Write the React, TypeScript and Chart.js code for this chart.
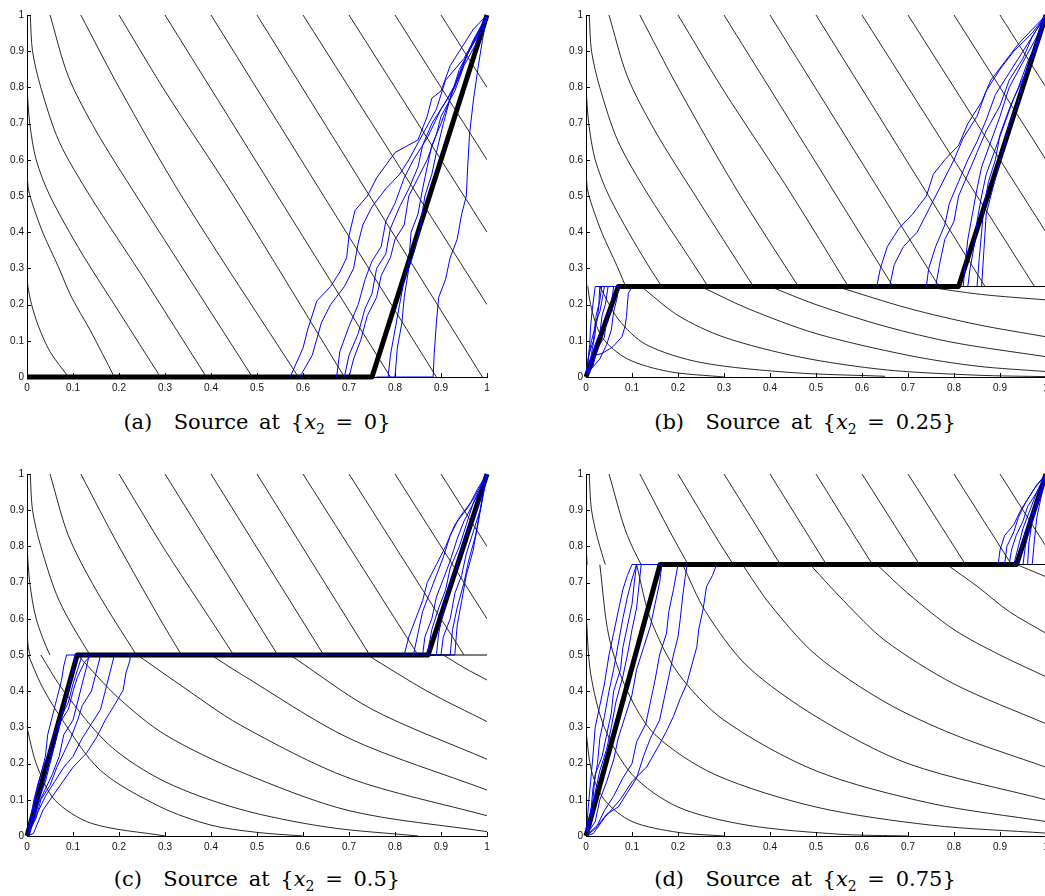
import React, { useEffect, useRef } from "react";
import { Chart, registerables } from "chart.js";

Chart.register(...registerables);

type P = [number, number];

// ---------- axis ticks ----------
const TICK_VALUES = [0, 0.1, 0.2, 0.3, 0.4, 0.5, 0.6, 0.7, 0.8, 0.9, 1];
const TICK_LABELS = ["0", "0.1", "0.2", "0.3", "0.4", "0.5", "0.6", "0.7", "0.8", "0.9", "1"];

// ---------- panels ----------
const PANEL_LABELS = ["(a)", "(b)", "(c)", "(d)"];
const SOURCE_LEVELS = [0, 0.25, 0.5, 0.75];
const SOURCE_TEXT = ["0", "0.25", "0.5", "0.75"];

// thick optimal path per panel
const THICK_A: P[] = [[0, 0], [0.75, 0], [1, 1]];
const THICK_B: P[] = [[0, 0], [0.07, 0.25], [0.81, 0.25], [1, 1]];
const THICK_C: P[] = [[0, 0], [0.109, 0.5], [0.872, 0.5], [1, 1]];
const THICK_D: P[] = [[0, 0], [0.161, 0.75], [0.936, 0.75], [1, 1]];

// thin source line
const SRC_A: P[] = [];
const SRC_B: P[] = [[0.07, 0.25], [1, 0.25]];
const SRC_C: P[] = [[0.109, 0.5], [1, 0.5]];
const SRC_D: P[] = [[0.161, 0.75], [1, 0.75]];

// level lines above the source (shared by all panels)
const LEVELS_UPPER: P[][] = [
  [[0.09, 0], [0.05, 0.07], [0.025, 0.14], [0.01, 0.2], [0.002, 0.25], [0, 0.28]],
  [[0.19, 0], [0.137, 0.13], [0.097, 0.22], [0.068, 0.305], [0.035, 0.397], [0.014, 0.47], [0.003, 0.52], [0, 0.58]],
  [[0.29, 0], [0.2, 0.18], [0.12, 0.34], [0.05, 0.5], [0.02, 0.6], [0.006, 0.7], [0, 0.8]],
  [[0.39, 0], [0.25, 0.28], [0.137, 0.5], [0.07, 0.65], [0.03, 0.8], [0.012, 0.9], [0.007, 1]],
  [[0.49, 0], [0.238, 0.5], [0.15, 0.68], [0.09, 0.83], [0.05, 1]],
  [[0.59, 0], [0.336, 0.5], [0.2, 0.8], [0.117, 1]],
  [[0.69, 0], [0.449, 0.5], [0.3, 0.79], [0.2, 1]],
  [[0.79, 0], [0.3, 1]],
  [[0.89, 0], [0.4, 1]],
  [[0.99, 0], [0.5, 1]],
  [[1, 0.2], [0.6, 1]],
  [[1, 0.4], [0.7, 1]],
  [[1, 0.6], [0.8, 1]],
  [[1, 0.8], [0.9, 1]],
];

// level lines below the source
const LEVELS_LOWER_B: P[][] = [
  [[0.735, 0.25], [0.86, 0.228], [1, 0.213]],
  [[0.545, 0.25], [0.7, 0.19], [0.85, 0.145], [1, 0.111]],
  [[0.4, 0.25], [0.5, 0.2], [0.65, 0.14], [0.8, 0.095], [1, 0.056]],
  [[0.25, 0.25], [0.35, 0.19], [0.5, 0.12], [0.7, 0.06], [0.85, 0.03], [1, 0.015]],
  [[0.12, 0.25], [0.2, 0.17], [0.3, 0.11], [0.465, 0.055], [0.65, 0.02], [0.85, 0.005], [1, 0.001]],
  [[0.03, 0.25], [0.07, 0.16], [0.13, 0.09], [0.25, 0.04], [0.45, 0.012], [0.65, 0.002]],
  [[0, 0.3], [0.01, 0.2], [0.035, 0.11], [0.09, 0.05], [0.18, 0.015], [0.3, 0]],
];
const LEVELS_LOWER_C: P[][] = [
  [[0.905, 0.5], [0.95, 0.465], [1, 0.431]],
  [[0.74, 0.5], [0.87, 0.4], [1, 0.316]],
  [[0.572, 0.5], [0.75, 0.35], [1, 0.212]],
  [[0.4, 0.5], [0.463, 0.449], [0.7, 0.27], [1, 0.127]],
  [[0.24, 0.5], [0.33, 0.42], [0.463, 0.307], [0.7, 0.16], [1, 0.056]],
  [[0.11, 0.5], [0.2, 0.38], [0.3, 0.28], [0.463, 0.178], [0.7, 0.07], [1, 0.012]],
  [[0.03, 0.5], [0.08, 0.4], [0.18, 0.25], [0.3, 0.15], [0.463, 0.074], [0.65, 0.025], [0.85, 0]],
  [[0.003, 0.5], [0.03, 0.42], [0.072, 0.33], [0.159, 0.182], [0.289, 0.081], [0.4, 0.03], [0.5, 0.01], [0.6, 0]],
  [[0, 0.3], [0.02, 0.2], [0.06, 0.1], [0.14, 0.035], [0.3, 0]],
];
const LEVELS_LOWER_D: P[][] = [
  [[0.936, 0.75], [0.97, 0.732], [1, 0.716]],
  [[0.784, 0.75], [0.85, 0.69], [0.92, 0.62], [1, 0.56]],
  [[0.632, 0.75], [0.7, 0.67], [0.8, 0.57], [0.9, 0.5], [1, 0.44]],
  [[0.487, 0.75], [0.56, 0.65], [0.65, 0.54], [0.8, 0.42], [1, 0.31]],
  [[0.34, 0.75], [0.4, 0.64], [0.5, 0.5], [0.65, 0.37], [0.8, 0.28], [1, 0.19]],
  [[0.21, 0.75], [0.26, 0.62], [0.35, 0.47], [0.5, 0.33], [0.7, 0.2], [1, 0.1]],
  [[0.11, 0.75], [0.14, 0.6], [0.2, 0.45], [0.3, 0.32], [0.5, 0.18], [0.75, 0.09], [1, 0.04]],
  [[0.03, 0.75], [0.05, 0.55], [0.09, 0.4], [0.15, 0.28], [0.28, 0.17], [0.5, 0.08], [0.75, 0.03], [1, 0.008]],
  [[0, 0.62], [0.01, 0.45], [0.04, 0.3], [0.1, 0.17], [0.2, 0.08], [0.35, 0.03], [0.55, 0.005], [0.7, 0]],
  [[0, 0.29], [0.012, 0.18], [0.04, 0.1], [0.1, 0.04], [0.2, 0.01], [0.3, 0]],
];

// ---------- sample paths (blue) ----------
const PATHS_A: P[][] = [
  [[0.572, 0], [0.6, 0.08], [0.61, 0.13], [0.63, 0.21], [0.66, 0.25], [0.68, 0.29], [0.695, 0.33], [0.7, 0.39], [0.713, 0.46], [0.74, 0.5], [0.76, 0.55], [0.8, 0.62], [0.85, 0.655], [0.87, 0.72], [0.88, 0.77], [0.9, 0.79], [0.92, 0.86], [0.94, 0.9], [0.97, 0.96], [1, 1]],
  [[0.593, 0], [0.62, 0.06], [0.64, 0.15], [0.66, 0.2], [0.69, 0.25], [0.71, 0.3], [0.72, 0.37], [0.73, 0.42], [0.75, 0.47], [0.78, 0.52], [0.81, 0.56], [0.83, 0.6], [0.86, 0.67], [0.89, 0.74], [0.91, 0.82], [0.95, 0.88], [0.98, 0.95], [1, 1]],
  [[0.673, 0], [0.68, 0.07], [0.7, 0.14], [0.72, 0.2], [0.735, 0.27], [0.75, 0.32], [0.77, 0.36], [0.78, 0.43], [0.8, 0.48], [0.82, 0.55], [0.84, 0.6], [0.87, 0.66], [0.9, 0.74], [0.93, 0.8], [0.95, 0.87], [0.97, 0.93], [1, 1]],
  [[0.69, 0], [0.7, 0.06], [0.72, 0.12], [0.735, 0.19], [0.75, 0.23], [0.76, 0.3], [0.78, 0.34], [0.79, 0.41], [0.81, 0.47], [0.83, 0.52], [0.85, 0.58], [0.86, 0.64], [0.88, 0.7], [0.91, 0.76], [0.94, 0.83], [0.96, 0.9], [0.99, 0.96], [1, 1]],
  [[0.7, 0], [0.71, 0.05], [0.725, 0.1], [0.74, 0.17], [0.76, 0.22], [0.77, 0.28], [0.79, 0.33], [0.8, 0.38], [0.82, 0.42], [0.83, 0.5], [0.85, 0.55], [0.87, 0.6], [0.89, 0.67], [0.9, 0.72], [0.93, 0.79], [0.95, 0.86], [0.98, 0.93], [1, 1]],
  [[0.785, 0], [0.79, 0.06], [0.8, 0.13], [0.81, 0.2], [0.82, 0.27], [0.83, 0.32], [0.835, 0.4], [0.85, 0.45], [0.86, 0.52], [0.87, 0.58], [0.88, 0.64], [0.9, 0.7], [0.92, 0.77], [0.94, 0.84], [0.96, 0.9], [0.98, 0.95], [1, 1]],
  [[0.8, 0], [0.805, 0.08], [0.815, 0.15], [0.82, 0.22], [0.83, 0.3], [0.845, 0.36], [0.855, 0.42], [0.865, 0.5], [0.88, 0.56], [0.89, 0.62], [0.905, 0.7], [0.92, 0.77], [0.94, 0.85], [0.97, 0.92], [1, 1]],
  [[0.76, 0], [0.883, 0], [0.885, 0.06], [0.89, 0.15], [0.895, 0.22], [0.91, 0.27], [0.92, 0.33], [0.935, 0.38], [0.945, 0.45], [0.955, 0.5], [0.958, 0.58], [0.962, 0.67], [0.97, 0.76], [0.98, 0.85], [0.99, 0.93], [1, 1]],
];

const PATHS_B_LOW: P[][] = [
  [[0, 0], [0.004, 0.04], [0.008, 0.09], [0.01, 0.14], [0.014, 0.19], [0.02, 0.25]],
  [[0, 0], [0.008, 0.03], [0.014, 0.08], [0.02, 0.12], [0.022, 0.17], [0.03, 0.21], [0.034, 0.25]],
  [[0, 0], [0.012, 0.05], [0.02, 0.09], [0.03, 0.12], [0.035, 0.17], [0.042, 0.2], [0.048, 0.25]],
  [[0, 0], [0.015, 0.03], [0.025, 0.08], [0.04, 0.11], [0.045, 0.16], [0.055, 0.2], [0.06, 0.25]],
  [[0, 0], [0.006, 0.06], [0.016, 0.1], [0.02, 0.15], [0.03, 0.18], [0.036, 0.22], [0.04, 0.25]],
  [[0, 0], [0.01, 0.02], [0.03, 0.05], [0.045, 0.09], [0.055, 0.13], [0.06, 0.18], [0.068, 0.22], [0.07, 0.25]],
  [[0, 0], [0.01, 0.03], [0.02, 0.06], [0.035, 0.065], [0.059, 0.084], [0.078, 0.111], [0.085, 0.14], [0.088, 0.167], [0.09, 0.2], [0.092, 0.231], [0.1, 0.25]],
  [[0, 0], [0.005, 0.05], [0.012, 0.1], [0.018, 0.13], [0.025, 0.16], [0.028, 0.2], [0.03, 0.25]],
];
const PATHS_B_UP: P[][] = [
  [[0.632, 0.25], [0.64, 0.3], [0.655, 0.36], [0.68, 0.41], [0.71, 0.45], [0.74, 0.5], [0.755, 0.56], [0.78, 0.6], [0.81, 0.64], [0.83, 0.7], [0.86, 0.76], [0.88, 0.82], [0.91, 0.87], [0.94, 0.92], [0.97, 0.96], [1, 1]],
  [[0.66, 0.25], [0.67, 0.31], [0.69, 0.36], [0.72, 0.4], [0.74, 0.45], [0.76, 0.5], [0.78, 0.55], [0.8, 0.6], [0.82, 0.66], [0.85, 0.72], [0.87, 0.79], [0.9, 0.85], [0.93, 0.9], [0.97, 0.95], [1, 1]],
  [[0.74, 0.25], [0.745, 0.3], [0.76, 0.36], [0.78, 0.42], [0.79, 0.48], [0.81, 0.54], [0.83, 0.6], [0.85, 0.65], [0.87, 0.71], [0.89, 0.78], [0.92, 0.84], [0.95, 0.9], [0.98, 0.96], [1, 1]],
  [[0.76, 0.25], [0.77, 0.32], [0.78, 0.38], [0.8, 0.43], [0.81, 0.5], [0.83, 0.56], [0.85, 0.62], [0.87, 0.68], [0.9, 0.75], [0.92, 0.82], [0.95, 0.88], [0.97, 0.94], [1, 1]],
  [[0.82, 0.25], [0.825, 0.32], [0.83, 0.38], [0.84, 0.45], [0.85, 0.52], [0.86, 0.58], [0.88, 0.65], [0.9, 0.72], [0.92, 0.8], [0.95, 0.87], [0.98, 0.94], [1, 1]],
  [[0.83, 0.25], [0.835, 0.3], [0.845, 0.37], [0.85, 0.43], [0.86, 0.5], [0.87, 0.56], [0.89, 0.63], [0.91, 0.7], [0.93, 0.77], [0.96, 0.85], [0.98, 0.92], [1, 1]],
  [[0.85, 0.25], [0.855, 0.33], [0.86, 0.4], [0.865, 0.47], [0.875, 0.54], [0.89, 0.6], [0.9, 0.67], [0.92, 0.74], [0.94, 0.8], [0.96, 0.87], [0.985, 0.94], [1, 1]],
  [[0.86, 0.25], [0.865, 0.35], [0.87, 0.45], [0.88, 0.5], [0.89, 0.55], [0.905, 0.62], [0.92, 0.7], [0.94, 0.76], [0.95, 0.82], [0.97, 0.88], [0.985, 0.93], [1, 1]],
];

const PATHS_C_LOW: P[][] = [
  [[0, 0], [0.01, 0.06], [0.02, 0.12], [0.03, 0.17], [0.04, 0.22], [0.045, 0.28], [0.055, 0.33], [0.065, 0.38], [0.075, 0.43], [0.08, 0.47], [0.086, 0.5]],
  [[0, 0], [0.012, 0.05], [0.02, 0.1], [0.035, 0.14], [0.045, 0.2], [0.06, 0.25], [0.07, 0.3], [0.08, 0.36], [0.09, 0.41], [0.1, 0.46], [0.105, 0.5]],
  [[0, 0], [0.015, 0.04], [0.025, 0.09], [0.04, 0.13], [0.055, 0.17], [0.07, 0.22], [0.08, 0.28], [0.1, 0.32], [0.11, 0.37], [0.12, 0.42], [0.13, 0.47], [0.135, 0.5]],
  [[0, 0], [0.02, 0.05], [0.03, 0.1], [0.05, 0.14], [0.065, 0.19], [0.08, 0.23], [0.095, 0.27], [0.11, 0.32], [0.12, 0.36], [0.14, 0.4], [0.15, 0.45], [0.16, 0.5]],
  [[0, 0], [0.01, 0.03], [0.025, 0.07], [0.04, 0.11], [0.06, 0.15], [0.08, 0.19], [0.1, 0.22], [0.12, 0.27], [0.14, 0.31], [0.16, 0.35], [0.17, 0.4], [0.18, 0.45], [0.19, 0.5]],
  [[0, 0], [0.014, 0.007], [0.035, 0.072], [0.065, 0.127], [0.1, 0.19], [0.13, 0.23], [0.152, 0.274], [0.17, 0.32], [0.188, 0.357], [0.209, 0.403], [0.215, 0.45], [0.224, 0.486], [0.224, 0.5]],
  [[0, 0], [0.008, 0.05], [0.015, 0.1], [0.025, 0.15], [0.035, 0.19], [0.05, 0.24], [0.06, 0.29], [0.075, 0.33], [0.09, 0.37], [0.1, 0.42], [0.11, 0.46], [0.12, 0.5]],
  [[0, 0], [0.02, 0.08], [0.04, 0.15], [0.05, 0.2], [0.06, 0.25], [0.07, 0.31], [0.09, 0.35], [0.1, 0.4], [0.11, 0.44], [0.125, 0.48], [0.14, 0.5]],
];
const PATHS_C_UP: P[][] = [
  [[0.82, 0.5], [0.83, 0.55], [0.845, 0.6], [0.86, 0.65], [0.87, 0.7], [0.89, 0.75], [0.91, 0.8], [0.93, 0.86], [0.96, 0.91], [0.98, 0.96], [1, 1]],
  [[0.84, 0.5], [0.85, 0.56], [0.86, 0.62], [0.875, 0.67], [0.89, 0.72], [0.905, 0.77], [0.92, 0.83], [0.94, 0.88], [0.97, 0.93], [1, 1]],
  [[0.86, 0.5], [0.865, 0.55], [0.88, 0.6], [0.89, 0.66], [0.905, 0.71], [0.92, 0.76], [0.935, 0.82], [0.95, 0.87], [0.975, 0.93], [1, 1]],
  [[0.87, 0.5], [0.88, 0.57], [0.895, 0.63], [0.91, 0.68], [0.92, 0.74], [0.94, 0.8], [0.955, 0.86], [0.97, 0.92], [1, 1]],
  [[0.89, 0.5], [0.895, 0.56], [0.905, 0.62], [0.915, 0.68], [0.93, 0.73], [0.945, 0.79], [0.96, 0.85], [0.98, 0.91], [1, 1]],
  [[0.9, 0.5], [0.905, 0.55], [0.92, 0.6], [0.93, 0.67], [0.945, 0.72], [0.955, 0.78], [0.97, 0.84], [0.985, 0.9], [1, 1]],
  [[0.92, 0.5], [0.925, 0.57], [0.935, 0.63], [0.95, 0.7], [0.96, 0.76], [0.975, 0.83], [0.985, 0.9], [1, 1]],
  [[0.93, 0.5], [0.935, 0.58], [0.945, 0.65], [0.955, 0.72], [0.97, 0.79], [0.98, 0.86], [0.99, 0.93], [1, 1]],
];

const PATHS_D_LOW: P[][] = [
  [[0, 0], [0.005, 0.08], [0.01, 0.15], [0.015, 0.22], [0.02, 0.3], [0.03, 0.36], [0.04, 0.42], [0.05, 0.5], [0.06, 0.56], [0.07, 0.62], [0.08, 0.68], [0.09, 0.72], [0.1, 0.75]],
  [[0, 0], [0.01, 0.06], [0.015, 0.13], [0.025, 0.2], [0.03, 0.27], [0.04, 0.33], [0.05, 0.4], [0.06, 0.46], [0.07, 0.53], [0.08, 0.6], [0.09, 0.66], [0.1, 0.71], [0.11, 0.75]],
  [[0, 0], [0.012, 0.05], [0.02, 0.12], [0.03, 0.18], [0.045, 0.24], [0.055, 0.3], [0.065, 0.37], [0.08, 0.44], [0.09, 0.5], [0.1, 0.57], [0.11, 0.63], [0.115, 0.69], [0.12, 0.75]],
  [[0, 0], [0.02, 0.04], [0.03, 0.1], [0.045, 0.15], [0.06, 0.21], [0.07, 0.27], [0.085, 0.33], [0.1, 0.39], [0.11, 0.46], [0.125, 0.52], [0.14, 0.58], [0.15, 0.64], [0.16, 0.7], [0.165, 0.75]],
  [[0, 0], [0.025, 0.03], [0.04, 0.07], [0.06, 0.11], [0.08, 0.16], [0.1, 0.2], [0.11, 0.26], [0.13, 0.31], [0.14, 0.37], [0.15, 0.43], [0.16, 0.5], [0.175, 0.56], [0.18, 0.62], [0.19, 0.68], [0.2, 0.75]],
  [[0, 0], [0.016, 0.007], [0.04, 0.05], [0.074, 0.1], [0.1, 0.15], [0.132, 0.191], [0.161, 0.256], [0.175, 0.29], [0.19, 0.33], [0.205, 0.38], [0.219, 0.42], [0.233, 0.486], [0.241, 0.523], [0.245, 0.57], [0.255, 0.63], [0.262, 0.689], [0.275, 0.72], [0.284, 0.75]],
  [[0, 0], [0.02, 0.02], [0.045, 0.06], [0.07, 0.08], [0.09, 0.12], [0.11, 0.16], [0.125, 0.22], [0.14, 0.27], [0.16, 0.32], [0.17, 0.38], [0.18, 0.44], [0.19, 0.5], [0.2, 0.55], [0.205, 0.6], [0.21, 0.66], [0.215, 0.71], [0.22, 0.75]],
  [[0, 0], [0.008, 0.05], [0.015, 0.1], [0.02, 0.17], [0.035, 0.22], [0.045, 0.28], [0.055, 0.34], [0.06, 0.4], [0.075, 0.46], [0.08, 0.52], [0.09, 0.58], [0.1, 0.64], [0.105, 0.7], [0.11, 0.75]],
];
const PATHS_D_UP: P[][] = [
  [[0.896, 0.75], [0.9, 0.79], [0.91, 0.83], [0.93, 0.86], [0.945, 0.9], [0.96, 0.93], [0.98, 0.97], [1, 1]],
  [[0.91, 0.75], [0.915, 0.8], [0.93, 0.84], [0.94, 0.88], [0.955, 0.92], [0.975, 0.96], [1, 1]],
  [[0.92, 0.75], [0.925, 0.79], [0.935, 0.83], [0.95, 0.87], [0.96, 0.91], [0.98, 0.95], [1, 1]],
  [[0.93, 0.75], [0.94, 0.8], [0.95, 0.85], [0.965, 0.9], [0.98, 0.95], [1, 1]],
  [[0.94, 0.75], [0.945, 0.79], [0.955, 0.84], [0.97, 0.89], [0.985, 0.94], [1, 1]],
  [[0.95, 0.75], [0.955, 0.8], [0.965, 0.86], [0.975, 0.91], [0.99, 0.96], [1, 1]],
  [[0.96, 0.75], [0.963, 0.81], [0.97, 0.87], [0.985, 0.93], [1, 1]],
  [[0.97, 0.75], [0.975, 0.82], [0.98, 0.88], [0.99, 0.94], [1, 1]],
];

// ---------- plugins ----------
const regionClip = {
  id: "regionClip",
  beforeDatasetDraw(chart: any, args: any, opts: any) {
    const ds: any = chart.data.datasets[args.index];
    if (!ds.region) return;
    const h = opts.h ?? 0;
    const { left, right, top, bottom } = chart.chartArea;
    const yh = chart.scales.y.getPixelForValue(h);
    const ctx = chart.ctx;
    ctx.save();
    ctx.beginPath();
    if (ds.region === "upper") ctx.rect(left - 2, top - 2, right - left + 4, yh - top + 2);
    else ctx.rect(left - 2, yh, right - left + 4, bottom - yh + 2);
    ctx.clip();
  },
  afterDatasetDraw(chart: any, args: any) {
    const ds: any = chart.data.datasets[args.index];
    if (ds.region) chart.ctx.restore();
  },
};

const inwardTicks = {
  id: "inwardTicks",
  afterDraw(chart: any) {
    const { ctx, chartArea } = chart;
    const xs = chart.scales.x;
    const ys = chart.scales.y;
    ctx.save();
    ctx.strokeStyle = "#000";
    ctx.lineWidth = 1;
    ctx.beginPath();
    TICK_VALUES.forEach((v) => {
      const px = Math.round(xs.getPixelForValue(v)) + 0.5;
      ctx.moveTo(px, chartArea.bottom);
      ctx.lineTo(px, chartArea.bottom - 4);
      const py = Math.round(ys.getPixelForValue(v)) + 0.5;
      ctx.moveTo(chartArea.left, py);
      ctx.lineTo(chartArea.left + 4, py);
    });
    ctx.stroke();
    ctx.restore();
  },
};

const toXY = (pts: P[]) => pts.map(([x, y]) => ({ x, y }));

interface PanelProps {
  h: number;
  thick: P[];
  src: P[];
  lower: P[][];
  paths: P[][];
}

function Panel({ h, thick, src, lower, paths }: PanelProps) {
  const ref = useRef<HTMLCanvasElement | null>(null);
  useEffect(() => {
    if (!ref.current) return;
    const datasets: any[] = [];
    LEVELS_UPPER.forEach((c) =>
      datasets.push({ data: toXY(c), region: "upper", borderColor: "#111", borderWidth: 0.9, tension: 0.3, pointRadius: 0 })
    );
    lower.forEach((c) =>
      datasets.push({ data: toXY(c), region: "lower", borderColor: "#111", borderWidth: 0.9, tension: 0.3, pointRadius: 0 })
    );
    if (src.length) datasets.push({ data: toXY(src), borderColor: "#000", borderWidth: 1, pointRadius: 0 });
    paths.forEach((p) =>
      datasets.push({ data: toXY(p), borderColor: "#0000ff", borderWidth: 1, pointRadius: 0, tension: 0 })
    );
    datasets.push({
      data: toXY(thick),
      borderColor: "#000",
      borderWidth: 5,
      pointRadius: 0,
      clip: false,
      borderJoinStyle: "round",
      borderCapStyle: "butt",
    });

    const tickFont = { family: "'Liberation Sans', Arial, sans-serif", size: 10 };
    const chart = new Chart(ref.current, {
      type: "scatter",
      data: { datasets },
      options: {
        animation: false,
        responsive: false,
        devicePixelRatio: 1,
        showLine: true,
        events: [],
        layout: { padding: { top: 15, right: 13, left: 0, bottom: 0 } },
        plugins: {
          legend: { display: false },
          tooltip: { enabled: false },
          regionClip: { h },
        } as any,
        scales: {
          x: {
            type: "linear",
            min: 0,
            max: 1,
            afterBuildTicks: (s: any) => {
              s.ticks = TICK_VALUES.map((v) => ({ value: v }));
            },
            afterFit: (s: any) => {
              s.height = 23;
            },
            grid: { display: false, drawTicks: false },
            border: { display: true, color: "#000", width: 1 },
            ticks: {
              autoSkip: false,
              maxRotation: 0,
              padding: 5,
              color: "#111",
              font: tickFont,
              callback: (_v: any, i: number) => TICK_LABELS[i],
            },
          },
          y: {
            type: "linear",
            min: 0,
            max: 1,
            afterBuildTicks: (s: any) => {
              s.ticks = TICK_VALUES.map((v) => ({ value: v }));
            },
            afterFit: (s: any) => {
              s.width = 27;
            },
            grid: { display: false, drawTicks: false },
            border: { display: true, color: "#000", width: 1 },
            ticks: {
              autoSkip: false,
              padding: 3,
              color: "#111",
              font: tickFont,
              callback: (_v: any, i: number) => TICK_LABELS[i],
            },
          },
        },
      },
      plugins: [regionClip, inwardTicks],
    } as any);
    return () => chart.destroy();
  }, [h, thick, src, lower, paths]);
  return <canvas ref={ref} width={500} height={400} style={{ display: "block", width: 500, height: 400 }} />;
}

const join = (low: P[][], up: P[][]): P[][] => low.map((l, i) => [...l, ...up[i]]);

const PANELS = [
  { left: 0, top: 0, thick: THICK_A, src: SRC_A, lower: [] as P[][], paths: PATHS_A, capX: 257, capY: 422 },
  { left: 559, top: 0, thick: THICK_B, src: SRC_B, lower: LEVELS_LOWER_B, paths: join(PATHS_B_LOW, PATHS_B_UP), capX: 805, capY: 422 },
  { left: 0, top: 459, thick: THICK_C, src: SRC_C, lower: LEVELS_LOWER_C, paths: join(PATHS_C_LOW, PATHS_C_UP), capX: 257, capY: 879 },
  { left: 559, top: 459, thick: THICK_D, src: SRC_D, lower: LEVELS_LOWER_D, paths: join(PATHS_D_LOW, PATHS_D_UP), capX: 805, capY: 879 },
];

export default function App() {
  return (
    <div style={{ position: "fixed", left: 0, top: 0, width: 1045, height: 896, overflow: "hidden", background: "#fff" }}>
      {PANELS.map((p, i) => (
        <React.Fragment key={i}>
          <div style={{ position: "absolute", left: p.left, top: p.top }}>
            <Panel h={SOURCE_LEVELS[i]} thick={p.thick} src={p.src} lower={p.lower} paths={p.paths} />
          </div>
          <div
            style={{
              position: "absolute",
              left: p.capX - 250,
              top: p.capY - 14,
              width: 500,
              textAlign: "center",
              fontFamily: "'DejaVu Serif', serif",
              fontSize: 21,
              wordSpacing: 4,
              lineHeight: "28px",
              color: "#000",
              whiteSpace: "nowrap",
            }}
          >
            {PANEL_LABELS[i]}&nbsp; Source at {"{"}
            <i>x</i>
            <span style={{ fontSize: 14, position: "relative", top: 5 }}>2</span> = {SOURCE_TEXT[i]}
            {"}"}
          </div>
        </React.Fragment>
      ))}
    </div>
  );
}
